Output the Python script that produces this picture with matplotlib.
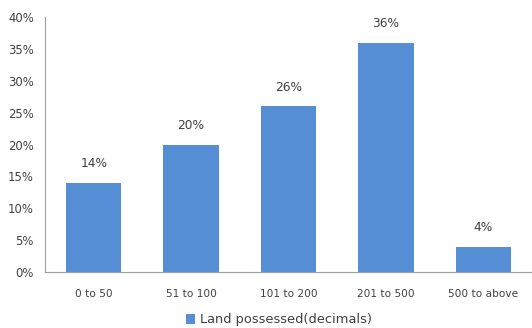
import matplotlib
matplotlib.use("Agg")
import matplotlib.pyplot as plt
from matplotlib.ticker import FuncFormatter, MultipleLocator

categories = ["0 to 50", "51 to 100", "101 to 200", "201 to 500", "500 to above"]
values = [14, 20, 26, 36, 4]
series_name = "Land possessed(decimals)"

color = "#558ED5"
plt.rcParams['font.family'] = ['DejaVu Sans']

fig = plt.figure(figsize=(5.32, 3.28), dpi=100)
ax = fig.add_axes([45/532, 1 - 272/328, 1 - 45/532, (272 - 17)/328])

x = list(range(len(categories)))
bars = ax.bar(x, values, width=0.57, color=color, label=series_name)
ax.set_xlim(-0.5, 4.5)
ax.set_ylim(0, 40)
ax.yaxis.set_major_locator(MultipleLocator(5))
ax.yaxis.set_major_formatter(FuncFormatter(lambda v, p: f"{int(v)}%"))
ax.set_xticks(x)
ax.set_xticklabels(categories)
ax.tick_params(axis='both', length=0, colors="#404040")
ax.tick_params(axis='x', pad=12, labelsize=7.6)
ax.tick_params(axis='y', pad=8, labelsize=8.4)

for s in ['top', 'right']:
    ax.spines[s].set_visible(False)
for s in ['left', 'bottom']:
    ax.spines[s].set_color("#A0A0A0")
    ax.spines[s].set_linewidth(0.8)

for xi, v in zip(x, values):
    ax.annotate(f"{v}%", (xi, v), xytext=(0, 9), textcoords="offset points",
                ha="center", va="bottom", fontsize=8.8, color="#404040")

leg = fig.legend(handles=[bars], labels=[series_name], loc="center",
                 bbox_to_anchor=(279/532, 1 - 320/328), frameon=False,
                 fontsize=9.4, handlelength=0.7, handleheight=0.7, handletextpad=0.4)
for t in leg.get_texts():
    t.set_color("#404040")

fig.savefig("out.png", dpi=100)
